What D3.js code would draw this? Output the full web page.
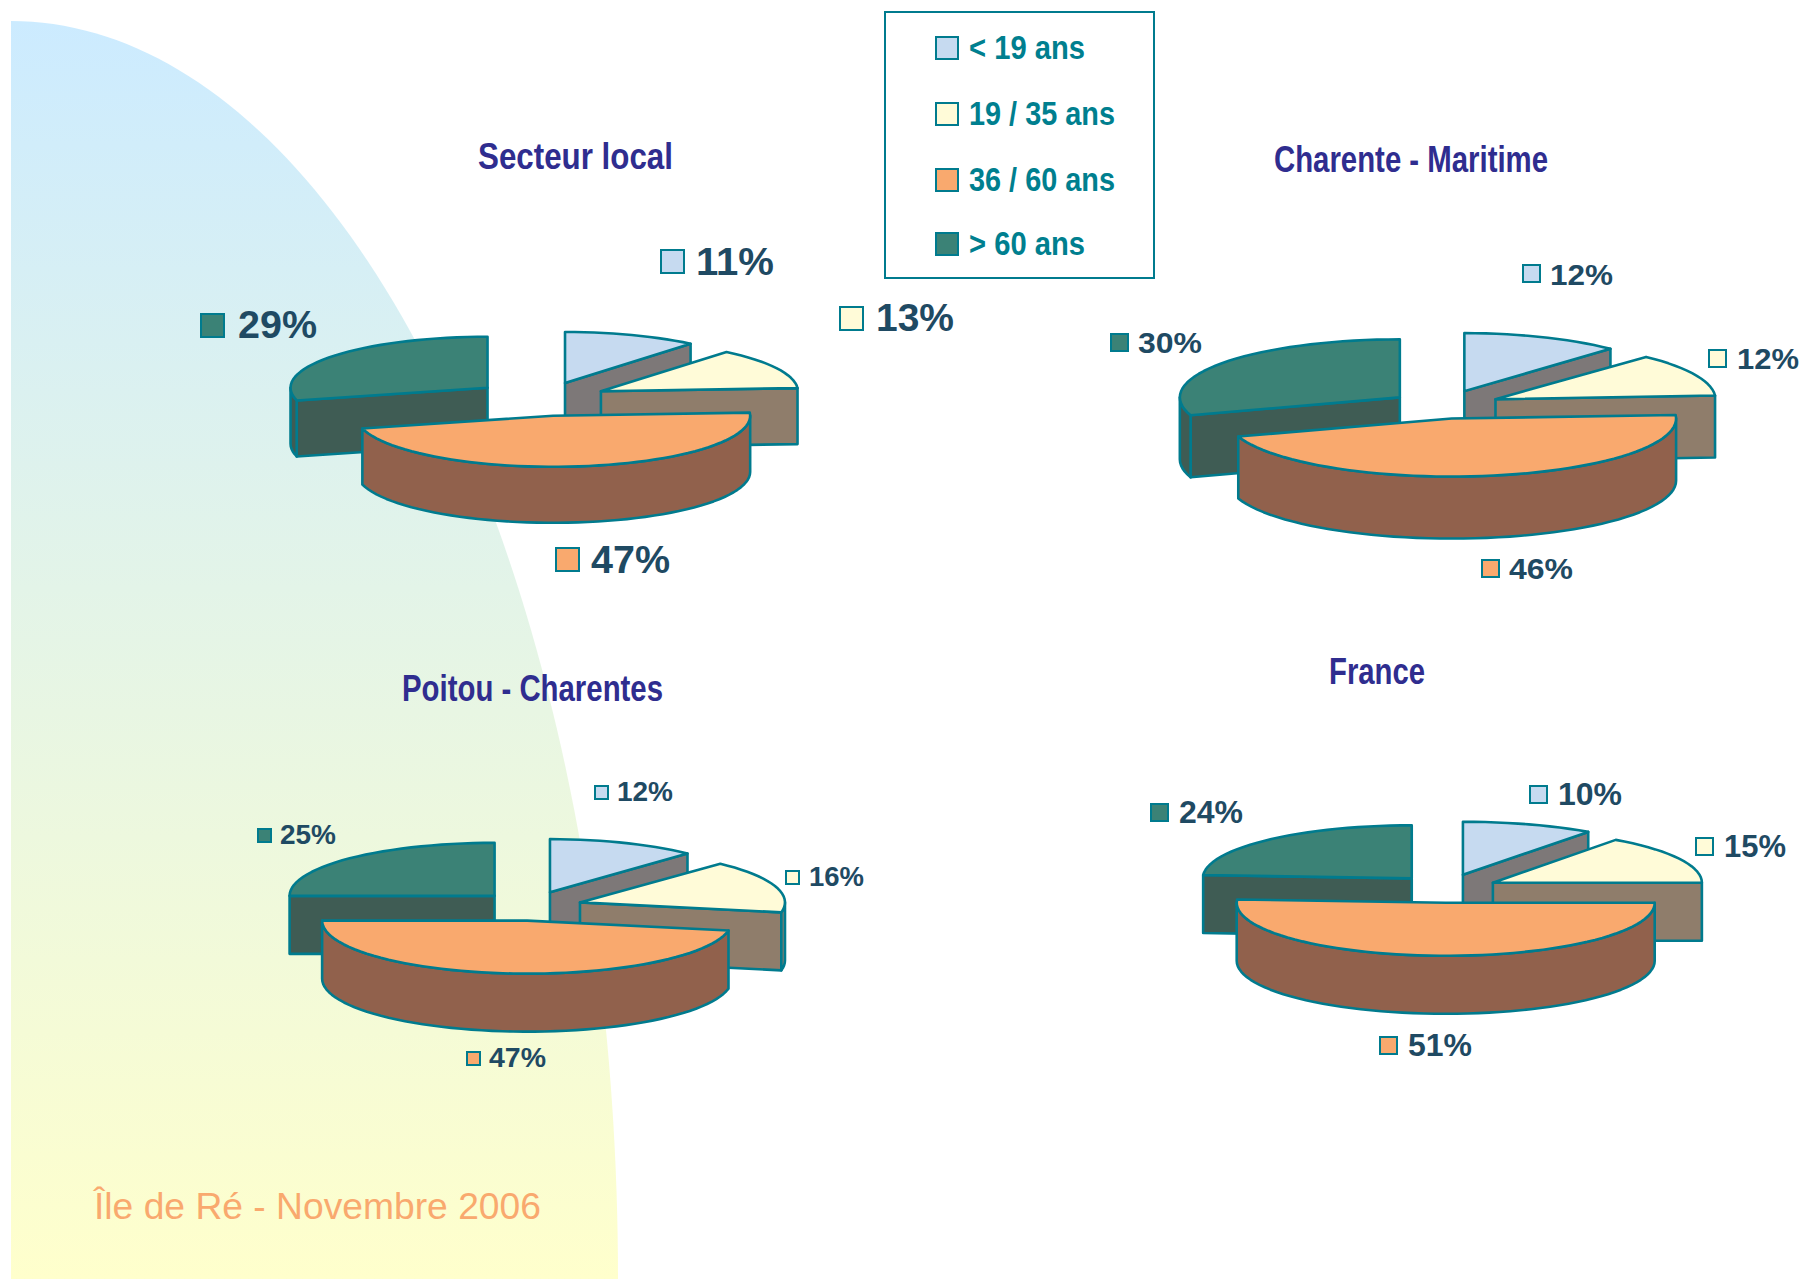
<!DOCTYPE html>
<html lang="fr">
<head>
<meta charset="utf-8">
<title>Âge de la population - Île de Ré</title>
<script src="https://cdn.jsdelivr.net/npm/d3@7/dist/d3.min.js"></script>
<style>
html,body{margin:0;padding:0;background:#fff}
svg{display:block}
text{font-family:"Liberation Sans",Arial,sans-serif}
</style>
</head>
<body>
<svg id="chart" width="1805" height="1279"></svg>
<script>
// ---- data -------------------------------------------------------------
const categories = ["< 19 ans", "19 / 35 ans", "36 / 60 ans", "> 60 ans"];
const regions = ["Secteur local", "Charente - Maritime", "Poitou - Charentes", "France"];
const secteurLocal = [11, 13, 47, 29];
const charenteMaritime = [12, 12, 46, 30];
const poitouCharentes = [12, 16, 47, 25];
const france = [10, 15, 51, 24];
const footer = "Île de Ré - Novembre 2006";

// ---- styles -----------------------------------------------------------
const topColours  = ["#C6DAF0", "#FFFBD8", "#F9A96E", "#3B8276"];
const wallColours = ["#7D7878", "#8F7D6B", "#91614C", "#3F5C54"];
const edge = "#007B8E", labelInk = "#1F4A63", titleInk = "#2F2D8F", legendInk = "#007F8F";
const edgeWidth = 2.6;

// ---- layout -----------------------------------------------------------
const layouts = [
  {values: secteurLocal, cx: 543, cy: 399, rx: 197, ry: 51, wall: 56, dx: 65, dy: 17,
   pull: [1, 1, 1, 1.08], rxK: [1, 1, 1, 1],
   title: {x0: 478, x1: 673, y: 169},
   font: 39, sw: 25,
   labels: [{sx: 660, sy: 249, x0: 696, x1: 774, y: 275},
            {sx: 839, sy: 306, x0: 876, x1: 954, y: 331},
            {sx: 555, sy: 547, x0: 591, x1: 670, y: 573},
            {sx: 200, sy: 313, x0: 238, x1: 317, y: 338}]},
  {values: charenteMaritime, cx: 1443, cy: 406, rx: 220, ry: 58, wall: 62, dx: 58, dy: 16,
   pull: [1, 1, .8, .92], rxK: [.97, 1, 1.02, 1],
   title: {x0: 1274, x1: 1548, y: 172},
   font: 30, sw: 19,
   labels: [{sx: 1522, sy: 264, x0: 1550, x1: 1613, y: 285},
            {sx: 1708, sy: 349, x0: 1737, x1: 1799, y: 369},
            {sx: 1481, sy: 559, x0: 1509, x1: 1573, y: 579},
            {sx: 1110, sy: 333, x0: 1138, x1: 1202, y: 353}]},
  {values: poitouCharentes, cx: 531, cy: 907.5, rx: 205, ry: 53, wall: 58, dx: 51.5, dy: 16.5,
   pull: [1, 1, .8, 1], rxK: [.98, 1, 1, 1],
   title: {x0: 402, x1: 663, y: 701},
   font: 27, sw: 15,
   labels: [{sx: 594, sy: 785, x0: 617, x1: 673, y: 801},
            {sx: 785, sy: 870, x0: 809, x1: 864, y: 886},
            {sx: 466, sy: 1051, x0: 489, x1: 546, y: 1067},
            {sx: 257, sy: 828, x0: 280, x1: 336, y: 844}]},
  {values: france, cx: 1447, cy: 890, rx: 209, ry: 53, wall: 58, dx: 51.5, dy: 16,
   pull: [1, 1, .8, 1], rxK: [1.02, 1, 1, 1],
   title: {x0: 1329, x1: 1425, y: 684},
   font: 31, sw: 19,
   labels: [{sx: 1529, sy: 785, x0: 1558, x1: 1622, y: 805},
            {sx: 1695, sy: 837, x0: 1724, x1: 1786, y: 857},
            {sx: 1379, sy: 1036, x0: 1408, x1: 1472, y: 1056},
            {sx: 1150, sy: 803, x0: 1179, x1: 1243, y: 823}]}
];
const titleFont = 36;
const legendBox = {x: 885, y: 12, w: 269, h: 266};
const legendRows = [
  {sy: 36, y: 59, x1: 1085}, {sy: 102, y: 125, x1: 1115},
  {sy: 168, y: 191, x1: 1115}, {sy: 232, y: 255, x1: 1085}
];

const svg = d3.select("#chart");
const defs = svg.append("defs");

// ---- background: quarter ellipse with a vertical gradient ---------------
const grad = defs.append("linearGradient").attr("id", "bg")
  .attr("x1", 0).attr("y1", 0).attr("x2", 0).attr("y2", 1);
grad.append("stop").attr("offset", 0).attr("stop-color", "#CCEBFF");
grad.append("stop").attr("offset", 1).attr("stop-color", "#FFFFCC");

const bgX = d3.scaleLinear([0, 1], [11, 618]);
const bgY = d3.scaleLinear([0, 1], [1279, 21]);
const bgLine = d3.line().x(d => bgX(d[0])).y(d => bgY(d[1]));
const bgPts = [[0, 0]].concat(d3.range(0, 90.5, 1).map(t => {
  const a = t * Math.PI / 180;
  return [Math.sin(a), Math.cos(a)];
}));
svg.append("path").attr("d", bgLine(bgPts) + "Z").attr("fill", "url(#bg)");

// ---- exploded 3D pies ---------------------------------------------------
const pieGen = d3.pie().sort(null).value(d => d);
const STEP = Math.PI / 60;
const drawOrder = [0, 3, 1, 2];

function sampleAngles(a0, a1) {
  const n = Math.max(1, Math.ceil((a1 - a0) / STEP));
  return d3.range(n + 1).map(i => a0 + (a1 - a0) * i / n);
}

function drawPie(p) {
  const g = svg.append("g");
  const arcs = pieGen(p.values);
  const line = d3.line();

  drawOrder.forEach(i => {
    const arc = arcs[i];
    const a0 = arc.startAngle, a1 = arc.endAngle;
    const mid = (a0 + a1) / 2;
    const k = p.pull[i];
    const ax = p.cx + p.dx * k * Math.sin(mid);
    const ay = p.cy - p.dy * k * Math.cos(mid);
    const X = d3.scaleLinear([-1, 1], [-p.rx * p.rxK[i], p.rx * p.rxK[i]]);
    const Y = d3.scaleLinear([-1, 1], [-p.ry, p.ry]);
    const pt = a => [ax + X(Math.sin(a)), ay + Y(-Math.cos(a))];
    const down = q => [q[0], q[1] + p.wall];

    const faceStyle = (s, fill) => s.attr("fill", fill).attr("stroke", edge)
      .attr("stroke-width", edgeWidth).attr("stroke-linejoin", "round");

    // cut faces
    if (Math.sin(a1) > 1e-6) {
      const e = pt(a1);
      g.append("path").attr("d", line([[ax, ay], e, down(e), [ax, ay + p.wall]]) + "Z").call(faceStyle, wallColours[i]);
    }
    if (Math.sin(a0) < -1e-6) {
      const e = pt(a0);
      g.append("path").attr("d", line([[ax, ay], e, down(e), [ax, ay + p.wall]]) + "Z").call(faceStyle, wallColours[i]);
    }
    // curved rim (the part of the slice facing the viewer)
    const r0 = Math.max(a0, Math.PI / 2), r1 = Math.min(a1, 3 * Math.PI / 2);
    if (r1 > r0) {
      const rim = sampleAngles(r0, r1).map(pt);
      g.append("path").attr("d", line(rim.concat(rim.slice().reverse().map(down))) + "Z").call(faceStyle, wallColours[i]);
    }
    // top face
    const top = [[ax, ay]].concat(sampleAngles(a0, a1).map(pt));
    g.append("path").attr("d", line(top) + "Z").call(faceStyle, topColours[i]);
  });
}

function fitText(sel, x0, x1, y, size, weight, fill, str) {
  sel.append("text").attr("x", x0).attr("y", y)
    .attr("font-size", size).attr("font-weight", weight).attr("fill", fill)
    .attr("textLength", x1 - x0).attr("lengthAdjust", "spacingAndGlyphs")
    .text(str);
}

layouts.forEach((p, r) => {
  drawPie(p);
  fitText(svg, p.title.x0, p.title.x1, p.title.y, titleFont, "bold", titleInk, regions[r]);
  p.labels.forEach((l, i) => {
    svg.append("rect").attr("x", l.sx + 1).attr("y", l.sy + 1)
      .attr("width", p.sw - 2).attr("height", p.sw - 2)
      .attr("fill", topColours[i]).attr("stroke", edge).attr("stroke-width", 2);
    fitText(svg, l.x0, l.x1, l.y, p.font, "bold", labelInk, p.values[i] + "%");
  });
});

// ---- legend ---------------------------------------------------------------
svg.append("rect").attr("x", legendBox.x).attr("y", legendBox.y)
  .attr("width", legendBox.w).attr("height", legendBox.h)
  .attr("fill", "#fff").attr("stroke", edge).attr("stroke-width", 2);
categories.forEach((c, i) => {
  const row = legendRows[i];
  svg.append("rect").attr("x", 936).attr("y", row.sy + 1).attr("width", 22).attr("height", 22)
    .attr("fill", topColours[i]).attr("stroke", edge).attr("stroke-width", 2);
  fitText(svg, 969, row.x1, row.y, 33, "bold", legendInk, c);
});

// ---- footer ---------------------------------------------------------------
fitText(svg, 94, 541, 1219, 37, "normal", "#F9A96E", footer);
</script>
</body>
</html>
